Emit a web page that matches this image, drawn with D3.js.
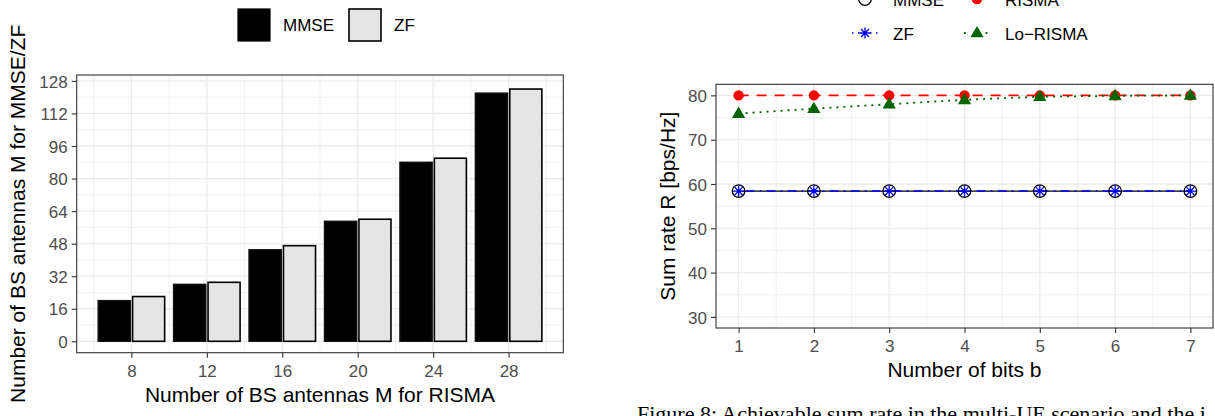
<!DOCTYPE html>
<html><head><meta charset="utf-8">
<script src="https://cdn.jsdelivr.net/npm/d3@7"></script>
<style>
body{margin:0;background:#fff}
svg{display:block}
text{font-family:"Liberation Sans",Arial,Helvetica,sans-serif}
</style>
</head><body>
<svg id="c" width="1215" height="416"></svg>
<script>
// ---------- Left chart data ----------
const antennasRISMA = [8, 12, 16, 20, 24, 28];
const antennasMMSE = [20, 28, 45, 59, 88, 122];
const antennasZF = [22, 29, 47, 60, 90, 124];
const leftYTicks = [0, 16, 32, 48, 64, 80, 96, 112, 128];
const leftSeries = ["MMSE", "ZF"];

// ---------- Right chart data ----------
const bits = [1, 2, 3, 4, 5, 6, 7];
const rateMMSE = [58.4, 58.4, 58.4, 58.4, 58.4, 58.4, 58.4];
const rateZF = [58.4, 58.4, 58.4, 58.4, 58.4, 58.4, 58.4];
const rateRISMA = [80, 80, 80, 80, 80, 80, 80];
const rateLoRISMA = [75.9, 77.0, 78.0, 79.0, 79.7, 79.9, 80.0];
const rightYTicks = [30, 40, 50, 60, 70, 80];
const rightSeries = ["MMSE", "RISMA", "ZF", "Lo\u2212RISMA"];

const svg = d3.select("#c");
const GRID = "#ebebeb", BORDER = "#333333", TICKTXT = "#4d4d4d";
const TICKFS = 17, TITLEFS = 21;

// ================= LEFT CHART =================
{
  const L = 76.7, R = 563.3, T = 75, B = 352.7;
  const x = d3.scaleLinear().domain([5.1, 30.9]).range([L, R]);
  const y = d3.scaleLinear().domain([-5.6, 130.9]).range([B, T]);
  const g = svg.append("g");
  g.append("rect").attr("x", L).attr("y", T).attr("width", R - L).attr("height", B - T).attr("fill", "#fff");
  const xMinor = d3.range(6, 31, 4);
  const yMinor = d3.range(8, 128, 16);
  g.selectAll(".xm").data(xMinor).join("line")
    .attr("x1", d => x(d)).attr("x2", d => x(d)).attr("y1", T).attr("y2", B)
    .attr("stroke", GRID).attr("stroke-width", 0.7);
  g.selectAll(".ym").data(yMinor).join("line")
    .attr("y1", d => y(d)).attr("y2", d => y(d)).attr("x1", L).attr("x2", R)
    .attr("stroke", GRID).attr("stroke-width", 0.7);
  g.selectAll(".xM").data(antennasRISMA).join("line")
    .attr("x1", d => x(d)).attr("x2", d => x(d)).attr("y1", T).attr("y2", B)
    .attr("stroke", GRID).attr("stroke-width", 1.3);
  g.selectAll(".yM").data(leftYTicks).join("line")
    .attr("y1", d => y(d)).attr("y2", d => y(d)).attr("x1", L).attr("x2", R)
    .attr("stroke", GRID).attr("stroke-width", 1.3);

  const half = 1.8;
  g.selectAll(".bm").data(antennasRISMA).join("rect")
    .attr("x", d => x(d - half) + 0.7).attr("width", d => x(d) - x(d - half) - 1.7)
    .attr("y", (d, i) => y(antennasMMSE[i])).attr("height", (d, i) => y(0) - y(antennasMMSE[i]))
    .attr("fill", "#000").attr("stroke", "#111").attr("stroke-width", 1.4);
  g.selectAll(".bz").data(antennasRISMA).join("rect")
    .attr("x", d => x(d) + 1.2).attr("width", d => x(d + half) - x(d) - 1.9)
    .attr("y", (d, i) => y(antennasZF[i])).attr("height", (d, i) => y(0) - y(antennasZF[i]))
    .attr("fill", "#e5e5e5").attr("stroke", "#000").attr("stroke-width", 1.6);

  g.append("rect").attr("x", L).attr("y", T).attr("width", R - L).attr("height", B - T)
    .attr("fill", "none").attr("stroke", BORDER).attr("stroke-width", 1.1);

  const xa = g.append("g").attr("transform", `translate(0,${B})`)
    .call(d3.axisBottom(x).tickValues(antennasRISMA).tickSize(5).tickPadding(3));
  const ya = g.append("g").attr("transform", `translate(${L},0)`)
    .call(d3.axisLeft(y).tickValues(leftYTicks).tickSize(5).tickPadding(4));
  [xa, ya].forEach(a => {
    a.select(".domain").remove();
    a.selectAll("line").attr("stroke", BORDER).attr("stroke-width", 1.1);
    a.selectAll("text").attr("fill", TICKTXT).style("font-size", TICKFS + "px")
      .style("font-family", "Liberation Sans, Arial, sans-serif");
  });
  xa.selectAll("text").attr("dy", null).attr("y", 24.5);
  ya.selectAll("text").attr("dy", "0.36em");

  g.append("text").attr("x", (L + R) / 2).attr("y", 402).attr("text-anchor", "middle")
    .style("font-size", TITLEFS + "px").text("Number of BS antennas M for RISMA");
  g.append("text").attr("transform", `translate(25,${(T + B) / 2}) rotate(-90)`).attr("text-anchor", "middle")
    .style("font-size", TITLEFS + "px").text("Number of BS antennas M for MMSE/ZF");

  const lg = g.append("g");
  const legX = [237, 348];
  const fills = ["#000", "#e5e5e5"];
  leftSeries.forEach((s, i) => {
    lg.append("rect").attr("x", legX[i] + 1).attr("y", 9).attr("width", 32).attr("height", 32)
      .attr("fill", fills[i]).attr("stroke", "#000").attr("stroke-width", i ? 1.6 : 1.2);
    lg.append("text").attr("x", legX[i] + 46).attr("y", 31).style("font-size", TICKFS + "px").text(s);
  });
}

// ================= RIGHT CHART =================
{
  const L = 716, R = 1213, T = 84.3, B = 328;
  const x = d3.scaleLinear().domain([0.7, 7.3]).range([L, R]);
  const y = d3.scaleLinear().domain([27.5, 82.5]).range([B, T]);
  const g = svg.append("g");
  const xMinor = d3.range(1.5, 7, 1);
  const yMinor = d3.range(35, 80, 10);
  g.selectAll(".xm").data(xMinor).join("line")
    .attr("x1", d => x(d)).attr("x2", d => x(d)).attr("y1", T).attr("y2", B)
    .attr("stroke", GRID).attr("stroke-width", 0.7);
  g.selectAll(".ym").data(yMinor).join("line")
    .attr("y1", d => y(d)).attr("y2", d => y(d)).attr("x1", L).attr("x2", R)
    .attr("stroke", GRID).attr("stroke-width", 0.7);
  g.selectAll(".xM").data(bits).join("line")
    .attr("x1", d => x(d)).attr("x2", d => x(d)).attr("y1", T).attr("y2", B)
    .attr("stroke", GRID).attr("stroke-width", 1.3);
  g.selectAll(".yM").data(rightYTicks).join("line")
    .attr("y1", d => y(d)).attr("y2", d => y(d)).attr("x1", L).attr("x2", R)
    .attr("stroke", GRID).attr("stroke-width", 1.3);

  const styles = {
    "MMSE": {vals: rateMMSE, color: "#000", dash: null, width: 1.3},
    "RISMA": {vals: rateRISMA, color: "#ff0000", dash: "10,8", width: 1.6},
    "ZF": {vals: rateZF, color: "#0000ff", dash: "2,5,9,5", width: 1.5},
    "Lo\u2212RISMA": {vals: rateLoRISMA, color: "#006400", dash: "2,5", width: 1.8}
  };
  function drawPoint(sel, name, cx, cy) {
    const st = styles[name];
    if (name === "MMSE") {
      sel.append("circle").attr("cx", cx).attr("cy", cy).attr("r", 6.3)
        .attr("fill", "none").attr("stroke", "#000").attr("stroke-width", 1.3);
    } else if (name === "RISMA") {
      sel.append("circle").attr("cx", cx).attr("cy", cy).attr("r", 5.2).attr("fill", st.color);
    } else if (name === "ZF") {
      const r = 5.6, d = r * Math.SQRT1_2;
      const p = `M${cx - r},${cy}H${cx + r}M${cx},${cy - r}V${cy + r}M${cx - d},${cy - d}L${cx + d},${cy + d}M${cx - d},${cy + d}L${cx + d},${cy - d}`;
      sel.append("path").attr("d", p).attr("stroke", st.color).attr("stroke-width", 1.3).attr("fill", "none");
    } else {
      const s = 7;
      sel.append("path").attr("d", `M${cx},${cy - s}L${cx + s * 0.95},${cy + s * 0.62}L${cx - s * 0.95},${cy + s * 0.62}Z`)
        .attr("fill", st.color);
    }
  }
  const order = ["MMSE", "ZF", "RISMA", "Lo\u2212RISMA"];
  const line = d3.line().x((d, i) => x(bits[i])).y(d => y(d));
  order.forEach(name => {
    const st = styles[name];
    g.append("path").attr("d", line(st.vals)).attr("fill", "none").attr("stroke", st.color)
      .attr("stroke-width", st.width).attr("stroke-dasharray", st.dash);
  });
  order.forEach(name => {
    const st = styles[name];
    const pg = g.append("g");
    st.vals.forEach((v, i) => drawPoint(pg, name, x(bits[i]), y(v)));
  });

  g.append("rect").attr("x", L).attr("y", T).attr("width", R - L).attr("height", B - T)
    .attr("fill", "none").attr("stroke", BORDER).attr("stroke-width", 1.1);

  const xa = g.append("g").attr("transform", `translate(0,${B})`)
    .call(d3.axisBottom(x).tickValues(bits).tickSize(5).tickPadding(3).tickFormat(d3.format("d")));
  const ya = g.append("g").attr("transform", `translate(${L},0)`)
    .call(d3.axisLeft(y).tickValues(rightYTicks).tickSize(5).tickPadding(4));
  [xa, ya].forEach(a => {
    a.select(".domain").remove();
    a.selectAll("line").attr("stroke", BORDER).attr("stroke-width", 1.1);
    a.selectAll("text").attr("fill", TICKTXT).style("font-size", TICKFS + "px")
      .style("font-family", "Liberation Sans, Arial, sans-serif");
  });
  xa.selectAll("text").attr("dy", null).attr("y", 24);
  ya.selectAll("text").attr("dy", "0.36em");

  g.append("text").attr("x", (L + R) / 2).attr("y", 377).attr("text-anchor", "middle")
    .style("font-size", TITLEFS + "px").text("Number of bits b");
  g.append("text").attr("transform", `translate(675,${(T + B) / 2}) rotate(-90)`).attr("text-anchor", "middle")
    .style("font-size", TITLEFS + "px").text("Sum rate R [bps/Hz]");

  const colX = [865, 977];
  const rowY = [-1, 33];
  rightSeries.forEach((name, k) => {
    const st = styles[name];
    const cx = colX[k % 2], cy = rowY[Math.floor(k / 2)];
    const lg = g.append("g");
    lg.append("line").attr("x1", cx - 13).attr("x2", cx + 13).attr("y1", cy).attr("y2", cy)
      .attr("stroke", st.color).attr("stroke-width", st.width)
      .attr("stroke-dasharray", name === "ZF" ? "1.5,4.5,0,0" : name === "Lo\u2212RISMA" ? "1.8,9" : null);
    drawPoint(lg, name, cx, cy);
    lg.append("text").attr("x", cx + 28).attr("y", cy + 6.5).style("font-size", TICKFS + "px").text(name);
  });

  svg.append("text").attr("x", 637).attr("y", 421)
    .style("font-family", "Liberation Serif, Times New Roman, serif").style("font-size", "22px")
    .text("Figure 8:  Achievable sum rate in the multi-UE scenario and the i");
}
</script>
</body></html>
